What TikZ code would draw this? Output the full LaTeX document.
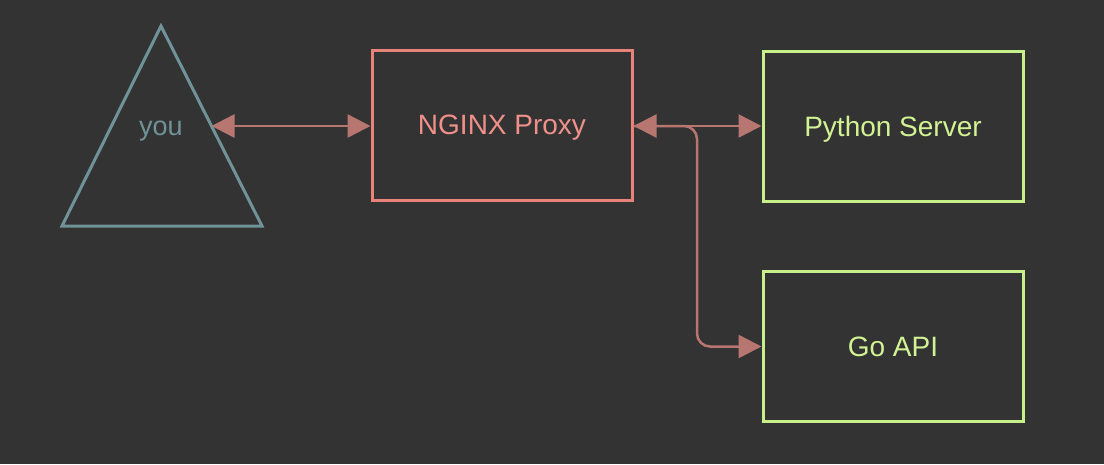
\documentclass[tikz,border=0pt]{standalone}
\usepackage{fontspec}
\setmainfont{Liberation Sans}
\usetikzlibrary{arrows.meta}
\definecolor{bgcol}{HTML}{333333}
\definecolor{youcol}{HTML}{6F9398}
\definecolor{proxycol}{HTML}{E8837A}
\definecolor{proxytext}{HTML}{F0908A}
\definecolor{appcol}{HTML}{C8F08A}
\definecolor{apptext}{HTML}{D2F394}
\definecolor{linkcol}{HTML}{B87670}
\begin{document}
\begin{tikzpicture}[x=1pt,y=-1pt,
    box/.style={draw, line width=3pt, minimum width=260pt, minimum height=150pt,
      inner sep=0pt, font=\fontsize{28}{32}\selectfont},
    proxy/.style={box, draw=proxycol, text=proxytext},
    app/.style={box, draw=appcol, text=apptext},
    link/.style={draw=linkcol, line width=2.5pt, rounded corners=13pt,
      >={Triangle[length=23pt,width=23pt]}}]
    \fill [bgcol] (0,0) rectangle (1104,464);
    \useasboundingbox (0,0) rectangle (1104,464);

    % the client
    \draw [youcol, line width=3pt, line join=miter] (161,26) -- (262,226) -- (62,226) -- cycle;
    \node [text=youcol, font=\fontsize{27}{32}\selectfont] (you) at (161,131) {you};
    \coordinate (youedge) at (211.5,126);

    % proxy and back ends
    \node [proxy, text depth=0pt] (nginx) at (502,125) {NGINX Proxy};
    \node [app, text depth=0pt] (python) at (893,126) {Python Server};
    \node [app] (goapi) at (893,346.5) {Go API};
    \coordinate (bend) at (697,126);

    \draw [link, <->] (youedge) -- (youedge -| nginx.west);
    \draw [link, <->] (nginx.east |- python.west) -- (python.west);
    \draw [link, ->] (nginx.east |- python.west) -- (bend) |- (goapi.west);
\end{tikzpicture}
\end{document}
